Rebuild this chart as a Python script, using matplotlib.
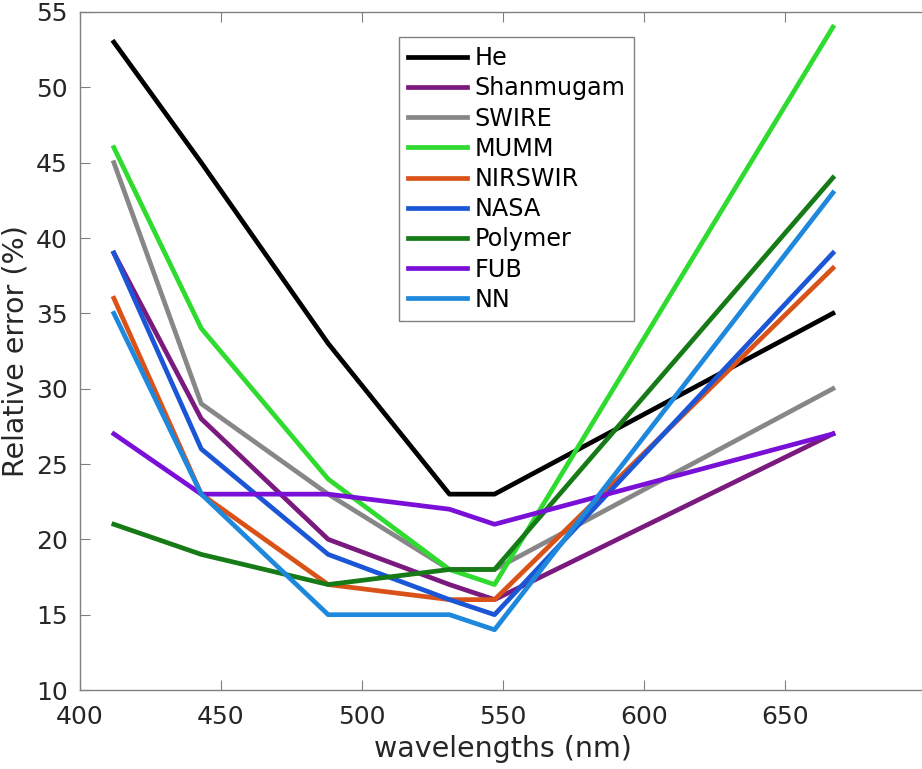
import matplotlib.pyplot as plt

# longitudes de onda (nm)
wavelengths = [412, 443, 488, 531, 547, 667]

# error relativo (%) por algoritmo
he = [53, 45, 33, 23, 23, 35]
shanmugam = [39, 28, 20, 17, 16, 27]
swire = [45, 29, 23, 18, 18, 30]
mumm = [46, 34, 24, 18, 17, 54]
nirswir = [36, 23, 17, 16, 16, 38]
nasa = [39, 26, 19, 16, 15, 39]
polymer = [21, 19, 17, 18, 18, 44]
fub = [27, 23, 23, 22, 21, 27]
nn = [35, 23, 15, 15, 14, 43]

names = ["He", "Shanmugam", "SWIRE", "MUMM", "NIRSWIR", "NASA", "Polymer", "FUB", "NN"]
series = [he, shanmugam, swire, mumm, nirswir, nasa, polymer, fub, nn]
colors = ["#000000", "#7B1A7E", "#878787", "#2EDB2E", "#D95319",
          "#1A56D6", "#167A16", "#7A10D8", "#1E88DC"]

fig = plt.figure(figsize=(9.22, 7.69), dpi=100)
ax = fig.add_axes([0.0868, 0.1027, 0.9175, 0.8817])

for name, vals, col in zip(names, series, colors):
    ax.plot(wavelengths, vals, color=col, linewidth=3.4, label=name)

ax.set_xlim(400, 700)
ax.set_ylim(10, 55)
ax.set_xticks([400, 450, 500, 550, 600, 650])
ax.set_yticks(range(10, 56, 5))

for s in ax.spines.values():
    s.set_color("#808080")
    s.set_linewidth(1)
ax.tick_params(direction="in", top=True, right=False, length=7,
               color="#808080", labelcolor="#262626", labelsize=18)
ax.tick_params(axis="y", pad=9)
ax.tick_params(axis="x", pad=11)

ax.set_xlabel("wavelengths (nm)", fontsize=20.5, color="#262626", labelpad=4)
ax.set_ylabel("Relative error (%)", fontsize=20.5, color="#262626", labelpad=4.5)

leg = ax.legend(loc="upper left", bbox_to_anchor=(0.377, 0.963), fontsize=17.2,
                handlelength=2.45, fancybox=False, framealpha=1,
                borderaxespad=0, labelspacing=0.26, handletextpad=0.33,
                borderpad=0.38)
leg.get_frame().set_edgecolor("#808080")
leg.get_frame().set_linewidth(1)

plt.savefig("out.png", dpi=100)
